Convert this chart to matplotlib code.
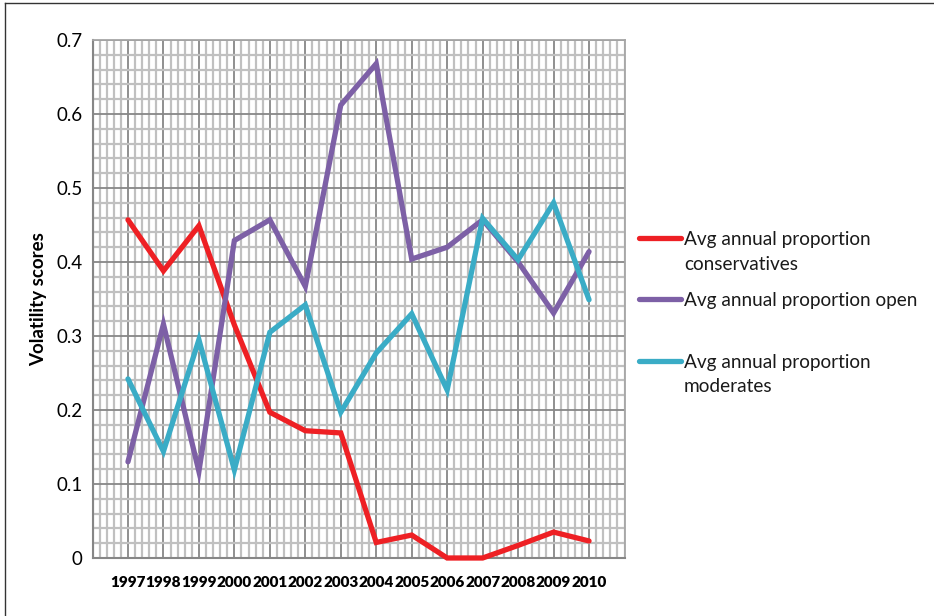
import matplotlib
matplotlib.use("Agg")
import matplotlib.pyplot as plt
from matplotlib.lines import Line2D
from matplotlib.ticker import MultipleLocator
import numpy as np

years = ["1997", "1998", "1999", "2000", "2001", "2002", "2003",
         "2004", "2005", "2006", "2007", "2008", "2009", "2010"]

conservatives = [0.457, 0.388, 0.449, 0.315, 0.197, 0.172, 0.169,
                 0.021, 0.031, 0.0, 0.0, 0.017, 0.035, 0.023]
open_ = [0.130, 0.316, 0.117, 0.429, 0.457, 0.367, 0.612,
         0.668, 0.404, 0.420, 0.457, 0.400, 0.331, 0.414]
moderates = [0.242, 0.144, 0.295, 0.119, 0.305, 0.342, 0.197,
             0.277, 0.330, 0.227, 0.459, 0.403, 0.480, 0.349]

series_labels = ["Avg annual proportion\nconservatives",
                 "Avg annual proportion open",
                 "Avg annual proportion\nmoderates"]
series_colors = ["#EE2024", "#7D60A6", "#3AACC6"]

plt.rcParams["font.family"] = ["Lato", "DejaVu Sans"]

fig = plt.figure(figsize=(9.34, 6.16), dpi=100)
W, H = 934, 616
ax = fig.add_axes([92.5 / W, 1 - 558 / H, (624.5 - 92.5) / W, (558 - 40) / H])

x = np.arange(len(years))
for vals, lab, col in zip([conservatives, open_, moderates], series_labels, series_colors):
    ax.plot(x, vals, color=col, lw=3.8, solid_joinstyle="miter", label=lab,
            solid_capstyle="round", zorder=3, clip_on=False)

ax.set_xlim(-1, len(years))
ax.set_ylim(0, 0.7)

ax.xaxis.set_major_locator(MultipleLocator(1))
ax.xaxis.set_minor_locator(MultipleLocator(0.2))
ax.yaxis.set_major_locator(MultipleLocator(0.1))
ax.yaxis.set_minor_locator(MultipleLocator(0.02))

ax.grid(which="minor", color="#C0C0C0", lw=1.6, zorder=0)
ax.grid(which="major", color="#878787", lw=1.3, zorder=1)
ax.set_axisbelow(True)

ax.set_xticks(x)
ax.set_xticklabels(years, fontweight="heavy", fontsize=11.0)
ax.set_yticks(np.arange(0, 0.71, 0.1))
ax.set_yticklabels(["0"] + [f"{v:.1f}" for v in np.arange(0.1, 0.71, 0.1)], fontsize=13.5)
ax.tick_params(which="both", length=0)
ax.tick_params(axis="x", pad=13)
ax.tick_params(axis="y", pad=7)

for s in ["top", "right"]:
    ax.spines[s].set_color("#A6A6A6")
    ax.spines[s].set_linewidth(1.3)
for s in ["left", "bottom"]:
    ax.spines[s].set_color("#868686")
    ax.spines[s].set_linewidth(1.5)

ax.set_ylabel("Volatility scores", fontweight="bold", fontsize=13.5)
ax.yaxis.set_label_coords((47 - 92.5) / (624.5 - 92.5), 0.5)

# legend: sample line beside the first line of each label
legend_y = [238, 299, 361]
line_gap = 24.5
for lab, col, yy in zip(series_labels, series_colors, legend_y):
    fig.add_artist(Line2D([639 / W, 681 / W], [1 - yy / H, 1 - yy / H],
                          color=col, lw=3.8, solid_capstyle="round"))
    for i, part in enumerate(lab.split("\n")):
        fig.text(684 / W, 1 - (yy + i * line_gap) / H, part, fontsize=13.7,
                 va="center_baseline", ha="left", color="#1a1a1a")

# outer frame of the figure
fig.add_artist(Line2D([5 / W, 5 / W], [0, 1 - 3 / H], color="#333333", lw=1.0))
fig.add_artist(Line2D([5 / W, 1], [1 - 3 / H, 1 - 3 / H], color="#333333", lw=1.0))

fig.savefig("out.png", dpi=100)
